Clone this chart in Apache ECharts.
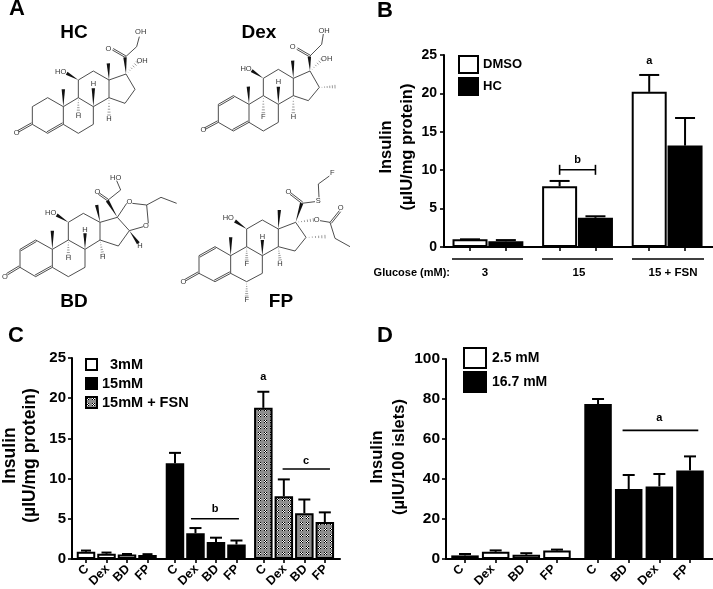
<!DOCTYPE html>
<html><head><meta charset="utf-8">
<style>html,body{margin:0;padding:0;background:#fff}#c{width:713px;height:589px}</style>
<script src="https://cdn.jsdelivr.net/npm/echarts@6/dist/echarts.min.js"></script>
</head><body><div id="c"></div>
<script>
// ---- Panel B data
const bPositions = [0, 1, 2.5, 3.5, 5, 6];
const bDmso = [1.0, 7.9, 20.2];
const bDmsoTop = [1.0, 8.6, 22.4];
const bHc = [0.75, 3.8, 13.2];
const bHcTop = [0.9, 4.0, 16.8];
const bGroups = ['3', '15', '15 + FSN'];
// ---- Panel C data
const cLabels = ['C', 'Dex', 'BD', 'FP', 'C', 'Dex', 'BD', 'FP', 'C', 'Dex', 'BD', 'FP'];
const cPositions = [0, 1, 2, 3, 4.34, 5.34, 6.34, 7.34, 8.65, 9.65, 10.65, 11.65];
const c3mM = [0.9, 0.65, 0.55, 0.5];
const c3mMTop = [1.05, 0.8, 0.62, 0.6];
const c15mM = [11.9, 3.2, 2.1, 1.8];
const c15mMTop = [13.2, 3.85, 2.65, 2.3];
const cFsn = [18.8, 7.8, 5.7, 4.6];
const cFsnTop = [20.8, 9.9, 7.4, 5.8];
// ---- Panel D data
const dLabels = ['C', 'Dex', 'BD', 'FP', 'C', 'BD', 'Dex', 'FP'];
const dPositions = [0, 1, 2, 3, 4.34, 5.34, 6.34, 7.34];
const dLow = [1.8, 3.6, 2.1, 4.2];
const dLowTop = [2.5, 4.3, 2.9, 4.7];
const dHigh = [77.5, 35, 36.3, 44.3];
const dHighTop = [80, 42, 42.5, 51.3];

const FONT = '"Liberation Sans", Arial, sans-serif';
const INK = '#000';

function pairs(xs, ys) { return ys.map((y, i) => [xs[i], y]); }
function triples(xs, ys, tops) { return ys.map((y, i) => [xs[i], y, tops[i]]); }

function patternImage() {
  const cv = document.createElement('canvas');
  cv.width = 6; cv.height = 6;
  const g = cv.getContext('2d');
  g.fillStyle = '#8e8e8e'; g.fillRect(0, 0, 6, 6);
  for (let i = 0; i < 3; i++) for (let j = 0; j < 3; j++) {
    g.fillStyle = (i + j) % 2 ? '#fff' : '#000';
    g.fillRect(i, j, 1, 1);
  }
  return cv;
}
const dots = { image: patternImage(), repeat: 'repeat' };

function barSeries(name, gi, data, color, width) {
  return {
    type: 'bar', name, xAxisIndex: gi, yAxisIndex: gi, data, barWidth: width, barGap: '-100%',
    itemStyle: { color, borderColor: INK, borderWidth: 2 }, animation: false, silent: true
  };
}
function errorSeries(gi, data, cap) {
  return {
    type: 'custom', xAxisIndex: gi, yAxisIndex: gi, data, z: 1, silent: true, animation: false,
    encode: { x: 0, y: [1, 2] },
    renderItem(params, api) {
      const a = api.coord([api.value(0), api.value(1)]);
      const b = api.coord([api.value(0), api.value(2)]);
      const style = { stroke: INK, lineWidth: 2, fill: null };
      return { type: 'group', children: [
        { type: 'line', shape: { x1: a[0], y1: a[1], x2: b[0], y2: b[1] }, style },
        { type: 'line', shape: { x1: b[0] - cap, y1: b[1], x2: b[0] + cap, y2: b[1] }, style }
      ] };
    }
  };
}
// annotation rows: [x1, x2, lineY, label, labelX, labelY, endCaps]
function noteSeries(gi, rows) {
  return {
    type: 'custom', xAxisIndex: gi, yAxisIndex: gi, silent: true, animation: false, clip: false, z: 5,
    data: rows.map((r, i) => [r[4], r[5], i]),
    encode: { x: 0, y: 1 },
    renderItem(params, api) {
      const r = rows[params.dataIndex];
      const kids = [];
      const style = { stroke: INK, lineWidth: 1.6, fill: null };
      if (r[0] !== null) {
        const p = api.coord([r[0], r[2]]), q = api.coord([r[1], r[2]]);
        kids.push({ type: 'line', shape: { x1: p[0], y1: p[1], x2: q[0], y2: q[1] }, style });
        if (r[6]) {
          kids.push({ type: 'line', shape: { x1: p[0], y1: p[1] - 5, x2: p[0], y2: p[1] + 5 }, style });
          kids.push({ type: 'line', shape: { x1: q[0], y1: q[1] - 5, x2: q[0], y2: q[1] + 5 }, style });
        }
      }
      const t = api.coord([r[4], r[5]]);
      kids.push({ type: 'text', x: t[0], y: t[1], style: { text: r[3], font: 'bold 11px ' + FONT, fill: INK, textAlign: 'center', textVerticalAlign: 'middle' } });
      return { type: 'group', children: kids };
    }
  };
}
// slanted tick labels, placed by the x scale under each tick
function tickLabelSeries(gi, positions, labels, dx, dy) {
  return {
    type: 'custom', xAxisIndex: gi, yAxisIndex: gi, silent: true, animation: false, clip: false, z: 5,
    data: positions.map((x, i) => [x, 0, i]),
    encode: { x: 0, y: 1 },
    renderItem(params, api) {
      const p = api.coord([api.value(0), 0]);
      return { type: 'text', x: p[0] + dx, y: p[1] + dy, rotation: Math.PI / 4,
        style: { text: labels[params.dataIndex], font: 'bold 12.5px ' + FONT, fill: INK, textAlign: 'right', textVerticalAlign: 'middle' } };
    }
  };
}
function yAxis(gi, max, interval, name, size, gap, lh, labelSize, margin, lift) {
  return {
    type: 'value', gridIndex: gi, min: 0, max, interval, splitLine: { show: false },
    axisLine: { show: true, onZero: false, lineStyle: { color: INK, width: 2 } },
    axisTick: { show: true, length: 4, lineStyle: { color: INK, width: 1.6 } },
    axisLabel: { color: INK, fontFamily: FONT, fontWeight: 'bold', fontSize: labelSize, margin },
    name, nameLocation: 'middle', nameRotate: 90, nameGap: gap,
    nameTextStyle: { color: INK, fontFamily: FONT, fontWeight: 'bold', fontSize: size, lineHeight: lh, padding: [0, 0, 0, lift] }
  };
}
function xAxis(gi, min, max, positions) {
  return {
    type: 'value', gridIndex: gi, min, max, splitLine: { show: false },
    axisLine: { show: true, onZero: false, lineStyle: { color: INK, width: 2 } },
    axisTick: { show: true, length: 4, customValues: positions, lineStyle: { color: INK, width: 1.6 } },
    axisLabel: { show: false }
  };
}
function legend(names, left, top, w, h, gap, size, gapText) {
  return {
    data: names, left, top, orient: 'vertical', itemWidth: w, itemHeight: h, itemGap: gap, padding: 0,
    icon: 'rect', selectedMode: false,
    textStyle: { color: INK, fontFamily: FONT, fontWeight: 'bold', fontSize: size, padding: [0, 0, 0, gapText - 5] }
  };
}

// ---- Chemical structure drawings (illustration, panel A), drawn in a 3x working space
const K = 1 / 3;
function bondEls(b, offX, offY) {
  const [x1, y1, x2, y2, t] = b;
  const P = (x, y) => [(x + offX) * K, (y + offY) * K];
  const p = P(x1, y1), q = P(x2, y2);
  const dx = q[0] - p[0], dy = q[1] - p[1], L = Math.hypot(dx, dy) || 1;
  const nx = -dy / L, ny = dx / L;
  const st = { stroke: '#3a3a3a', lineWidth: 0.9, fill: null };
  const line = (a, c) => ({ type: 'line', silent: true, shape: { x1: a[0], y1: a[1], x2: c[0], y2: c[1] }, style: st });
  if (t === 'w') {
    return [{ type: 'polygon', silent: true, shape: { points: [p, [q[0] + nx * 1.7, q[1] + ny * 1.7], [q[0] - nx * 1.7, q[1] - ny * 1.7]] }, style: { fill: '#111' } }];
  }
  if (t === 'h') {
    const out = [];
    for (let i = 1; i <= 6; i++) {
      const f = i / 6, w = 1.8 * f;
      const c = [p[0] + dx * f, p[1] + dy * f];
      out.push({ type: 'line', silent: true, shape: { x1: c[0] + nx * w, y1: c[1] + ny * w, x2: c[0] - nx * w, y2: c[1] - ny * w }, style: { stroke: '#555', lineWidth: 0.6 } });
    }
    return out;
  }
  if (t === 'd') {
    return [line(p, q), line([p[0] + nx * 1.7, p[1] + ny * 1.7], [q[0] + nx * 1.7, q[1] + ny * 1.7])];
  }
  return [line(p, q)];
}
function labelEl(l, offX, offY) {
  return { type: 'text', silent: true, x: (l[0] + offX) * K, y: (l[1] + offY) * K,
    style: { text: l[2], font: '7.5px ' + FONT, fill: '#333', textAlign: 'center', textVerticalAlign: 'middle', backgroundColor: 'transparent' } };
}
const hcBonds = [[97,373,97,320],[97,320,143,293],[143,293,190,320],[190,320,190,373],[190,373,143,400,'d'],[143,400,97,373],[97,373,56,396,'d'],
 [190,320,235,293],[235,293,280,320],[280,320,280,373],[280,373,235,400],[235,400,190,373],[235,293,235,240],[235,240,280,213],[280,213,327,240],[327,240,327,293],[327,293,280,320],
 [327,240,378,222],[378,222,405,268],[405,268,375,310],[375,310,327,293],[190,320,190,268,'w'],[327,240,325,190,'w'],[235,240,200,220,'w'],[235,293,235,338,'h'],[280,320,280,265,'w'],[327,293,327,345,'h'],
 [378,222,375,172,'w'],[375,172,337,150,'d'],[375,172,410,140],[410,140,418,110],[378,222,412,188,'h']];
const hcLabels = [[50,400,'O'],[182,215,'HO'],[235,347,'H'],[280,252,'H'],[327,358,'H'],[325,147,'O'],[422,97,'OH'],[426,182,'OH']];
const dexBonds = [[655,367,655,313],[655,313,700,287,'d'],[700,287,747,313],[747,313,747,367],[747,367,700,393,'d'],[700,393,655,367],[655,367,616,388,'d'],
 [747,313,790,287],[790,287,835,313],[835,313,835,367],[835,367,790,393],[790,393,747,367],[790,287,790,235],[790,235,835,208],[835,208,880,235],[880,235,880,287],[880,287,835,313],
 [880,235,930,213],[930,213,958,262],[958,262,925,302],[925,302,880,287],[747,313,745,260,'w'],[880,235,878,182,'w'],[790,235,755,212,'w'],[790,287,790,338,'h'],[835,313,835,260,'w'],[880,287,880,338,'h'],
 [930,213,928,170,'w'],[928,170,890,148,'d'],[928,170,965,133],[965,133,970,102],[930,213,965,180,'h'],[958,262,1005,260,'h']];
const dexLabels = [[610,390,'O'],[738,208,'HO'],[790,350,'F'],[835,247,'H'],[880,350,'H'],[878,142,'O'],[972,92,'OH'],[980,178,'OH']];
const bdBonds = [[60,322,60,268],[60,268,107,240,'d'],[107,240,157,268],[157,268,157,322],[157,322,107,350,'d'],[107,350,60,322],[60,322,22,345,'d'],
 [157,268,205,240],[205,240,255,268],[255,268,255,322],[255,322,205,350],[205,350,157,322],[205,240,205,187],[205,187,250,160],[250,160,300,187],[300,187,300,240],[300,240,255,268],
 [300,187,352,172],[352,172,388,212],[388,212,355,258],[355,258,300,240],[157,268,157,212,'w'],[300,187,290,135,'w'],[205,187,170,165,'w'],[205,240,205,285,'h'],[255,268,255,220,'w'],[300,240,308,283,'h'],
 [388,212,415,250,'w'],[352,172,322,122,'w'],[322,122,295,103,'d'],[322,122,362,90],[362,90,350,62],[352,172,380,130],[388,212,430,200],[397,130,440,135],[445,190,440,135],[440,135,483,112],[483,112,530,130]];
const bdLabels = [[15,350,'O'],[152,158,'HO'],[205,295,'H'],[255,210,'H'],[308,292,'H'],[420,258,'H'],[292,95,'O'],[347,55,'HO'],[388,125,'O'],[438,198,'O']];
const fpBonds = [[597,340,597,287],[597,287,645,260,'d'],[645,260,692,287],[692,287,692,340],[692,340,645,365,'d'],[645,365,597,340],[597,340,558,362,'d'],
 [692,287,740,260],[740,260,787,287],[787,287,787,340],[787,340,740,365],[740,365,692,340],[740,260,740,207],[740,207,787,180],[787,180,835,207],[835,207,835,260],[835,260,787,287],
 [835,207,887,187],[887,187,918,232],[918,232,885,273],[885,273,835,260],[692,287,692,232,'w'],[835,207,838,150,'w'],[740,207,705,183,'w'],[740,260,740,300,'h'],[787,287,787,240,'w'],[835,260,840,300,'h'],
 [740,365,740,408,'h'],[887,187,905,130,'w'],[905,130,870,103,'d'],[905,130,945,125],[957,112,955,72],[955,72,988,48],[887,187,940,180,'h'],[960,182,990,187],[990,187,1018,152,'d'],[990,187,1005,235],[1005,235,1050,260],[918,232,975,230,'h']];
const fpLabels = [[550,365,'O'],[685,175,'HO'],[740,312,'F'],[787,230,'H'],[840,312,'H'],[740,420,'F'],[865,95,'O'],[955,122,'S'],[997,38,'F'],[950,180,'O'],[1022,143,'O']];

function structure(bonds, labels, offX, offY) {
  const out = [];
  bonds.forEach(b => out.push(...bondEls(b, offX, offY)));
  labels.forEach(l => out.push(labelEl(l, offX, offY)));
  return out;
}
function txt(x, y, text, font, align) {
  return { type: 'text', silent: true, x, y, style: { text, font: font + ' ' + FONT, fill: INK, textAlign: align || 'center', textVerticalAlign: 'middle' } };
}
function rule(x1, x2, y) {
  return { type: 'line', silent: true, shape: { x1, y1: y, x2, y2: y }, style: { stroke: INK, lineWidth: 1.6 } };
}
const graphicEls = [
  txt(17, 9, 'A', 'bold 22px'), txt(385, 11, 'B', 'bold 22px'), txt(16, 336, 'C', 'bold 22px'), txt(385, 336, 'D', 'bold 22px'),
  txt(74, 33, 'HC', 'bold 19px'), txt(259, 33, 'Dex', 'bold 19px'), txt(74, 302, 'BD', 'bold 19px'), txt(281, 302, 'FP', 'bold 19px'),
  ...structure(hcBonds, hcLabels, 0, 0), ...structure(dexBonds, dexLabels, 0, 0),
  ...structure(bdBonds, bdLabels, 0, 480), ...structure(fpBonds, fpLabels, 0, 480),
  rule(452, 523, 259), rule(542, 613, 259), rule(632, 704, 259),
  txt(450, 273, 'Glucose (mM):', 'bold 11px', 'right'),
  txt(485, 273, bGroups[0], 'bold 11.5px'), txt(579, 273, bGroups[1], 'bold 11.5px'), txt(673, 273, bGroups[2], 'bold 11.5px')
];

const series = [
  errorSeries(0, triples([bPositions[0], bPositions[2], bPositions[4]], bDmso, bDmsoTop), 10),
  errorSeries(0, triples([bPositions[1], bPositions[3], bPositions[5]], bHc, bHcTop), 10),
  barSeries('DMSO', 0, pairs([bPositions[0], bPositions[2], bPositions[4]], bDmso), '#fff', 35),
  barSeries('HC', 0, pairs([bPositions[1], bPositions[3], bPositions[5]], bHc), '#000', 35),
  noteSeries(0, [[2.5, 3.5, 10.05, 'b', 3, 11.3, true], [null, null, null, 'a', 5, 24.2, false]]),

  errorSeries(1, triples(cPositions.slice(0, 4), c3mM, c3mMTop), 5),
  errorSeries(1, triples(cPositions.slice(4, 8), c15mM, c15mMTop), 6),
  errorSeries(1, triples(cPositions.slice(8), cFsn, cFsnTop), 6),
  barSeries('  3mM', 1, pairs(cPositions.slice(0, 4), c3mM), '#fff', 18.5),
  barSeries('15mM', 1, pairs(cPositions.slice(4, 8), c15mM), '#000', 18.5),
  barSeries('15mM + FSN', 1, pairs(cPositions.slice(8), cFsn), dots, 18.5),
  noteSeries(1, [[5.12, 7.46, 5, 'b', 6.3, 6.2, false], [9.59, 11.9, 11.2, 'c', 10.73, 12.2, false], [null, null, null, 'a', 8.65, 22.6, false]]),
  tickLabelSeries(1, cPositions, cLabels, 1, 8),

  errorSeries(2, triples(dPositions.slice(0, 4), dLow, dLowTop), 6),
  errorSeries(2, triples(dPositions.slice(4), dHigh, dHighTop), 6),
  barSeries('2.5 mM', 2, pairs(dPositions.slice(0, 4), dLow), '#fff', 27.5),
  barSeries('16.7 mM', 2, pairs(dPositions.slice(4), dHigh), '#000', 27.5),
  noteSeries(2, [[5.14, 7.61, 64.3, 'a', 6.34, 70.3, false]]),
  tickLabelSeries(2, dPositions, dLabels, -3, 8)
];

const chart = echarts.init(document.getElementById('c'), null, { renderer: 'canvas' });
chart.setOption({
  backgroundColor: '#fff',
  animation: false,
  grid: [
    { left: 444, top: 55, width: 269, height: 192, outerBoundsMode: 'none' },
    { left: 72, top: 358, width: 268, height: 201, outerBoundsMode: 'none' },
    { left: 446, top: 359, width: 267, height: 200, outerBoundsMode: 'none' }
  ],
  xAxis: [
    xAxis(0, -0.726, 6.78, bPositions),
    xAxis(1, -0.683, 12.39, cPositions),
    xAxis(2, -0.62, 8.09, dPositions)
  ],
  yAxis: [
    yAxis(0, 25, 5, 'Insulin\n(µIU/mg protein)', 16.5, 26, 21, 14, 7, 8),
    yAxis(1, 25, 5, 'Insulin\n(µIU/mg protein)', 17.5, 32, 20, 15, 6, 6),
    yAxis(2, 100, 20, 'Insulin\n(µIU/100 islets)', 16.5, 31.5, 22, 15.5, 6, 4)
  ],
  legend: [
    legend(['DMSO', 'HC'], 458, 55, 19, 17, 3, 13, 5),
    legend(['  3mM', '15mM', '15mM + FSN'], 85, 357, 11, 11, 4, 14.5, 5),
    legend(['2.5 mM', '16.7 mM'], 463, 347, 22, 20, 2, 14, 6)
  ],
  series,
  graphic: { elements: graphicEls }
});
</script></body></html>
